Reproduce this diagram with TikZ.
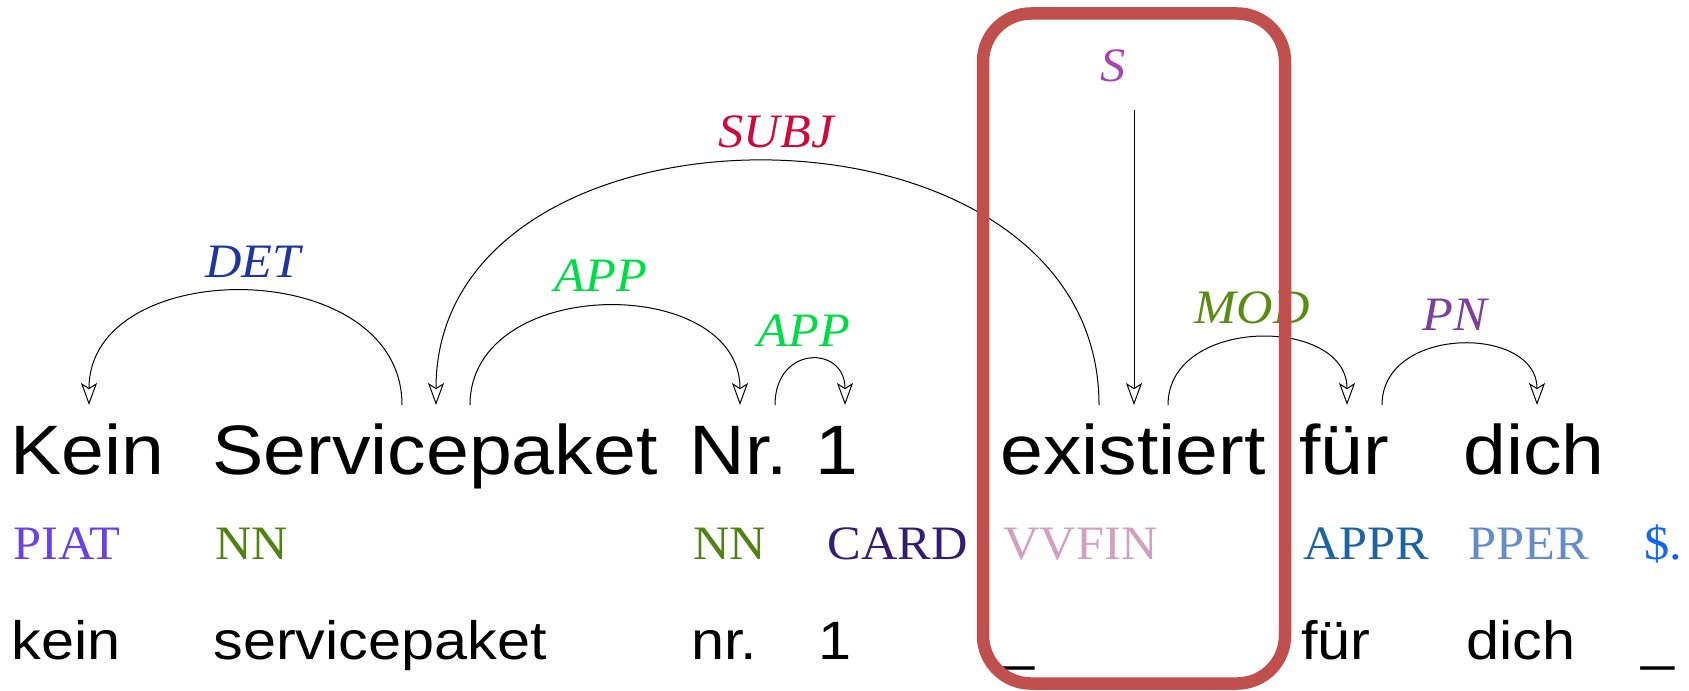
\documentclass[tikz,border=0pt]{standalone}
\usepackage{fontspec}
\usetikzlibrary{arrows.meta,calc}
\newfontfamily\wordfont[FakeStretch=1.10]{Liberation Sans}
\newfontfamily\tagfont[FakeStretch=1.05]{Liberation Serif}

\definecolor{cDET}{RGB}{30,55,160}
\definecolor{cSUBJ}{RGB}{205,10,60}
\definecolor{cAPP}{RGB}{0,220,70}
\definecolor{cMOD}{RGB}{90,140,20}
\definecolor{cPN}{RGB}{125,65,155}
\definecolor{cROOT}{RGB}{170,70,180}
\definecolor{tPIAT}{RGB}{105,65,230}
\definecolor{tNN}{RGB}{80,130,20}
\definecolor{tCARD}{RGB}{50,30,110}
\definecolor{tVVFIN}{RGB}{212,160,190}
\definecolor{tAPPR}{RGB}{30,100,160}
\definecolor{tPPER}{RGB}{100,140,200}
\definecolor{tPUNCT}{RGB}{20,100,240}
\definecolor{boxred}{RGB}{192,80,77}

\tikzset{
  word/.style={anchor=base west, inner sep=0pt, font=\wordfont\fontsize{35}{40}\selectfont},
  lemma/.style={anchor=base west, inner sep=0pt, font=\wordfont\fontsize{27}{30}\selectfont},
  postag/.style={anchor=base west, inner sep=0pt, font=\tagfont\fontsize{24}{28}\selectfont},
  deplabel/.style={anchor=base, inner sep=0pt, font=\tagfont\itshape\fontsize{24}{28}\selectfont},
  dep/.style={line width=0.5pt, -{Stealth[open,length=11pt,width=8pt,inset=2.5pt]}},
}

\begin{document}
\begin{tikzpicture}[x=0.5pt,y=-0.5pt]
  \useasboundingbox[fill=white] (0,0) rectangle (1689,690);

  % word row
  \node[word] (w1) at (10,474) {Kein};
  \node[word] (w2) at (212,474) {Servicepaket};
  \node[word] (w3) at (689,474) {Nr.};
  \node[word] (w4) at (815,474) {1};
  \node[word] (w5) at (1000,474) {existiert};
  \node[word] (w6) at (1299,474) {für};
  \node[word] (w7) at (1463,474) {dich};

  % part-of-speech row
  \node[postag, text=tPIAT] (p1) at (13,559) {PIAT};
  \node[postag, text=tNN] (p2) at (215,559) {NN};
  \node[postag, text=tNN] (p3) at (693,559) {NN};
  \node[postag, text=tCARD] (p4) at (827,559) {CARD};
  \node[postag, text=tVVFIN] (p5) at (1003,559) {VVFIN};
  \node[postag, text=tAPPR] (p6) at (1303,559) {APPR};
  \node[postag, text=tPPER] (p7) at (1468,559) {PPER};
  \node[postag, text=tPUNCT] (p8) at (1644,559) {\$.};

  % lemma row
  \node[lemma] (l1) at (11,659) {kein};
  \node[lemma] (l2) at (213,659) {servicepaket};
  \node[lemma] (l3) at (691,659) {nr.};
  \node[lemma] (l4) at (818,659) {1};
  \node[lemma] (l5) at (1001,659) {\_};
  \node[lemma] (l6) at (1301,659) {für};
  \node[lemma] (l7) at (1466,659) {dich};
  \node[lemma] (l8) at (1641,659) {\_};

  % arc end points
  \coordinate (det-out) at (402,405);
  \coordinate (det-in) at (89,405);
  \coordinate (subj-out) at (1099,405);
  \coordinate (subj-in) at (436,405);
  \coordinate (app1-out) at (470,405);
  \coordinate (app1-in) at (740,405);
  \coordinate (app2-out) at (775,405);
  \coordinate (app2-in) at (845,405);
  \coordinate (mod-out) at (1168,405);
  \coordinate (mod-in) at (1347,405);
  \coordinate (pn-out) at (1382,405);
  \coordinate (pn-in) at (1537,405);
  \coordinate (root-top) at (1134,110);
  \coordinate (root-in) at (1134,405);

  % dependency arcs
  \draw[dep] (det-out) .. controls ($(det-out)+(0,-151)$) and ($(det-in)+(0,-151)$) .. (det-in);
  \draw[dep] (subj-out) .. controls ($(subj-out)+(0,-324)$) and ($(subj-in)+(0,-324)$) .. (subj-in);
  \draw[dep] (app1-out) .. controls ($(app1-out)+(0,-131)$) and ($(app1-in)+(0,-131)$) .. (app1-in);
  \draw[dep] (app2-out) .. controls ($(app2-out)+(0,-60)$) and ($(app2-in)+(0,-60)$) .. (app2-in);
  \draw[dep] (mod-out) .. controls ($(mod-out)+(0,-89)$) and ($(mod-in)+(0,-89)$) .. (mod-in);
  \draw[dep] (pn-out) .. controls ($(pn-out)+(0,-80)$) and ($(pn-in)+(0,-80)$) .. (pn-in);
  \draw[dep] (root-top) -- (root-in);

  % arc labels
  \node[deplabel, text=cDET] (d1) at (253,277) {DET};
  \node[deplabel, text=cSUBJ] (d2) at (776,147) {SUBJ};
  \node[deplabel, text=cAPP] (d3) at (601,291) {APP};
  \node[deplabel, text=cAPP] (d4) at (804,346) {APP};
  \node[deplabel, text=cMOD] (d5) at (1252,323) {MOD};
  \node[deplabel, text=cPN] (d6) at (1455,330) {PN};
  \node[deplabel, text=cROOT, anchor=base west] (d7) at (1100,82) {S};

  % highlight frame around the finite verb
  \draw[boxred, line width=6.25pt, rounded corners=24pt] (983,13.5) rectangle (1285,683.5);
\end{tikzpicture}
\end{document}
